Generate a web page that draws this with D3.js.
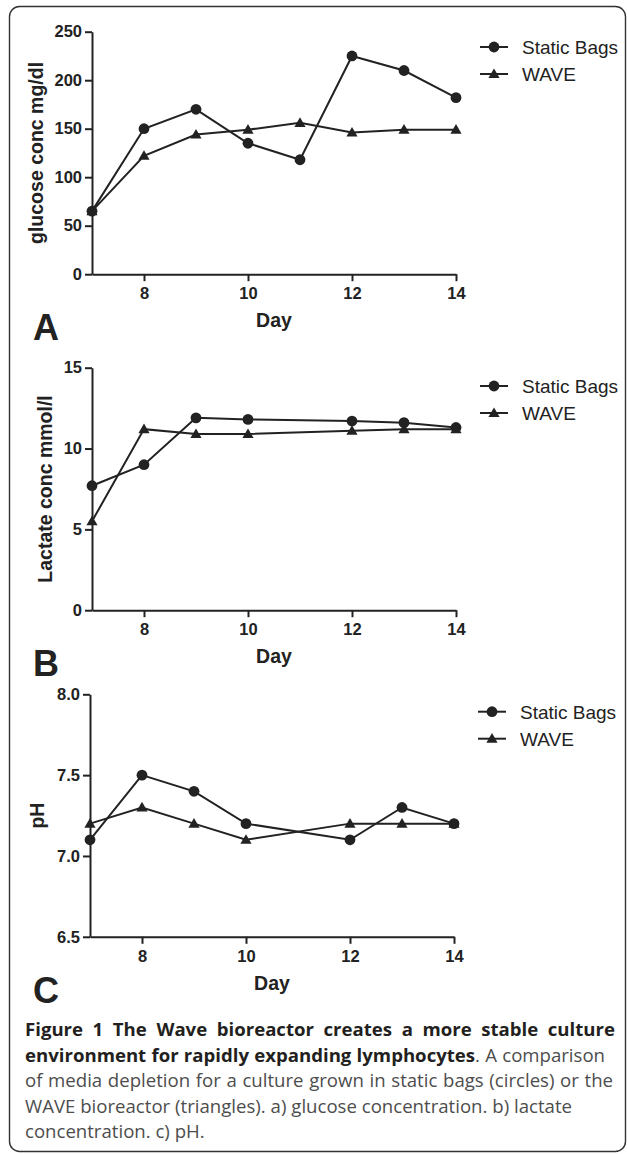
<!DOCTYPE html>
<html>
<head>
<meta charset="utf-8">
<script src="https://cdn.jsdelivr.net/npm/d3@7"></script>
<style>
  body { margin: 0; background: #fff; }
  svg { display: block; }
</style>
</head>
<body>
<svg id="chart" width="627" height="1154"></svg>
<script>
// data
var days = [7, 8, 9, 10, 11, 12, 13, 14];
var glucoseStatic = [65, 150, 170, 135, 118, 225, 210, 182];
var glucoseWave = [65, 122, 144, 149, 156, 146, 149, 149];

var lactateDays = [7, 8, 9, 10, 12, 13, 14];
var lactateStatic = [7.7, 9.0, 11.9, 11.8, 11.7, 11.6, 11.3];
var lactateWave = [5.5, 11.2, 10.9, 10.9, 11.1, 11.2, 11.2];

var phDays = [7, 8, 9, 10, 12, 13, 14];
var phStatic = [7.1, 7.5, 7.4, 7.2, 7.1, 7.3, 7.2];
var phWave = [7.2, 7.3, 7.2, 7.1, 7.2, 7.2, 7.2];

var dayTicks = [8, 10, 12, 14];
var glucoseTicks = [0, 50, 100, 150, 200, 250];
var lactateTicks = [0, 5, 10, 15];
var phTicks = [6.5, 7.0, 7.5, 8.0];

var seriesNames = ["Static Bags", "WAVE"];

var caption = [
  [{t: "Figure 1 The Wave bioreactor creates a more stable culture", b: true}],
  [{t: "environment for rapidly expanding lymphocytes", b: true}, {t: ". A comparison", b: false}],
  [{t: "of media depletion for a culture grown in static bags (circles) or the", b: false}],
  [{t: "WAVE bioreactor (triangles). a) glucose concentration. b) lactate", b: false}],
  [{t: "concentration. c) pH.", b: false}]
];

//////////////////////////////////////////////////////////////////////////////
// LAYOUT ////////////////////////////////////////////////////////////////////
//////////////////////////////////////////////////////////////////////////////

var ink = "#222";
var font = "'Liberation Sans', Arial, Helvetica, sans-serif";
var plotW = 364, plotH = 242.5;

var panels = [
  { letter: "A", title: "glucose conc mg/dl", x: days, s: glucoseStatic, w: glucoseWave,
    domain: [0, 250], ticks: glucoseTicks, fmt: d3.format("d"),
    top: 31.7, left: 92, titleX: 43, legendY: 47 },
  { letter: "B", title: "Lactate conc mmol/l", x: lactateDays, s: lactateStatic, w: lactateWave,
    domain: [0, 15], ticks: lactateTicks, fmt: d3.format("d"),
    top: 367.7, left: 92, titleX: 51.5, legendY: 386 },
  { letter: "C", title: "pH", x: phDays, s: phStatic, w: phWave,
    domain: [6.5, 8.0], ticks: phTicks, fmt: d3.format(".1f"),
    top: 694.3, left: 90, titleX: 44, legendY: 711.7 }
];

var svg = d3.select("#chart");

// rounded frame around the whole figure
svg.append("rect")
  .attr("x", 9.5).attr("y", 6.5)
  .attr("width", 616).attr("height", 1145)
  .attr("rx", 10).attr("ry", 10)
  .attr("fill", "none")
  .attr("stroke", "#333")
  .attr("stroke-width", 1.4);

function triangle(g, cx, cy) {
  // filled triangle, centred a little below the apex
  g.append("path")
    .attr("d", "M" + cx + "," + (cy - 5.6) + "L" + (cx + 5.6) + "," + (cy + 4) + "L" + (cx - 5.6) + "," + (cy + 4) + "Z")
    .attr("fill", ink);
}

function circle(g, cx, cy) {
  g.append("circle").attr("cx", cx).attr("cy", cy).attr("r", 5.4).attr("fill", ink);
}

panels.forEach(function(p) {
  var xs = d3.scaleLinear().domain([7, 14]).range([p.left, p.left + plotW]);
  var ys = d3.scaleLinear().domain(p.domain).range([p.top + plotH, p.top]);
  var g = svg.append("g");

  // axes
  var xAxis = g.append("g")
    .attr("transform", "translate(0," + (p.top + plotH) + ")")
    .call(d3.axisBottom(xs).tickValues(dayTicks).tickFormat(d3.format("d"))
      .tickSize(7).tickSizeOuter(0).tickPadding(6));
  var yAxis = g.append("g")
    .attr("transform", "translate(" + p.left + ",0)")
    .call(d3.axisLeft(ys).tickValues(p.ticks).tickFormat(p.fmt).tickSize(7).tickSizeOuter(0).tickPadding(3));

  [xAxis, yAxis].forEach(function(a) {
    a.attr("font-family", null).attr("font-size", null);
    a.selectAll("path, line").attr("stroke", ink).attr("stroke-width", 2);
    a.selectAll("text")
      .attr("fill", ink)
      .style("font-family", font)
      .style("font-size", "16.5px")
      .style("font-weight", "bold");
  });

  // axis titles
  g.append("text")
    .attr("transform", "translate(" + p.titleX + "," + (p.top + plotH / 2) + ") rotate(-90)")
    .attr("text-anchor", "middle")
    .attr("fill", ink)
    .style("font-family", font).style("font-size", "19.5px").style("font-weight", "bold")
    .text(p.title);

  g.append("text")
    .attr("x", p.left + plotW / 2).attr("y", p.top + plotH + 53)
    .attr("text-anchor", "middle")
    .attr("fill", ink)
    .style("font-family", font).style("font-size", "19.5px").style("font-weight", "bold")
    .text("Day");

  // panel letter
  g.append("text")
    .attr("x", 33).attr("y", p.top + plotH + 66)
    .attr("fill", ink)
    .style("font-family", font).style("font-size", "36px").style("font-weight", "bold")
    .text(p.letter);

  // series
  var line = d3.line().x(function(d) { return xs(d[0]); }).y(function(d) { return ys(d[1]); });
  [p.s, p.w].forEach(function(vals, k) {
    var pts = p.x.map(function(d, i) { return [d, vals[i]]; });
    g.append("path")
      .attr("d", line(pts))
      .attr("fill", "none")
      .attr("stroke", ink)
      .attr("stroke-width", 2);
    pts.forEach(function(d) {
      if (k === 0) circle(g, xs(d[0]), ys(d[1]));
      else triangle(g, xs(d[0]), ys(d[1]));
    });
  });

  // legend
  seriesNames.forEach(function(name, k) {
    var ly = p.legendY + k * 27;
    var lx = p.left + plotW + 24;
    g.append("line")
      .attr("x1", lx).attr("x2", lx + 28)
      .attr("y1", ly).attr("y2", ly)
      .attr("stroke", ink).attr("stroke-width", 2);
    if (k === 0) circle(g, lx + 14, ly);
    else triangle(g, lx + 14, ly);
    g.append("text")
      .attr("x", lx + 42).attr("y", ly)
      .attr("dy", "0.36em")
      .attr("fill", ink)
      .style("font-family", font).style("font-size", "19px")
      .text(name);
  });
});

//////////////////////////////////////////////////////////////////////////////
// CAPTION ///////////////////////////////////////////////////////////////////
//////////////////////////////////////////////////////////////////////////////

// right ends of the caption lines in the figure (last line is left ragged)
var capRight = [615, 605, 613, 572, null];
caption.forEach(function(segs, i) {
  var t = svg.append("text")
    .attr("x", 25).attr("y", 1036 + i * 25.5)
    .style("font-family", "'Open Sans', 'Noto Sans', sans-serif")
    .style("font-size", "18.6px");
  segs.forEach(function(s) {
    t.append("tspan")
      .attr("fill", s.b ? "#231f20" : "#4d4d4d")
      .style("font-weight", s.b ? "bold" : "normal")
      .text(s.t);
  });
  if (capRight[i]) {
    // stretch word gaps so the line ends where the figure's line ends
    var natural = t.node().getComputedTextLength();
    var target = capRight[i] - 25;
    var gaps = segs.map(function(s) { return s.t; }).join("").split(" ").length - 1;
    var extra = (target - natural) / gaps;
    t.style("word-spacing", extra + "px");
  }
});
</script>
</body>
</html>
